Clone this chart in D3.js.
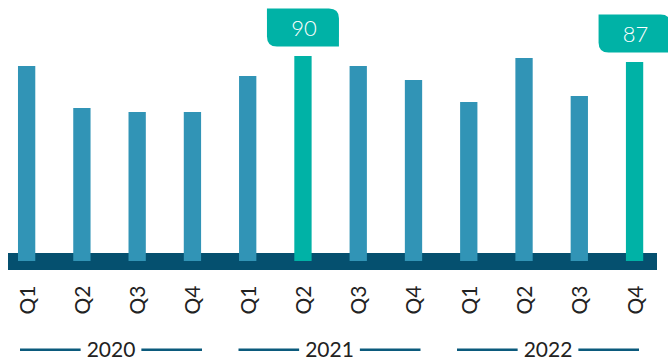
<!DOCTYPE html>
<html>
<head>
<meta charset="utf-8">
<script src="https://cdn.jsdelivr.net/npm/d3@7"></script>
<style>
  html, body { margin: 0; padding: 0; background: #ffffff; }
  svg { display: block; }
  text { font-family: "Lato", "Open Sans", "DejaVu Sans", sans-serif; }
</style>
</head>
<body>
<svg id="chart" width="668" height="360"></svg>
<script>
const quarters = ["Q1", "Q2", "Q3", "Q4", "Q1", "Q2", "Q3", "Q4", "Q1", "Q2", "Q3", "Q4"];
const years = ["2020", "2021", "2022"];
const values = [85, 64, 62, 62, 80, 90, 85, 78, 67, 89, 70, 87];
const highlighted = [false, false, false, false, false, true, false, false, false, false, false, true];

const colors = { bar: "#3194b6", highlight: "#00b2a6", base: "#05506f", text: "#222222", yearLine: "#0b5a7c" };

const svg = d3.select("#chart");
const idx = d3.range(values.length);

const x = d3.scaleBand().domain(idx).range([8, 657])
  .paddingInner(0.687).paddingOuter(0.215).align(0.42);
const y = d3.scaleLinear().domain([0, 100]).range([236, 36]);
const baseTop = 253, baseH = 17, barBottom = 261;

// baseline band
svg.append("rect")
  .attr("x", x.range()[0]).attr("y", baseTop)
  .attr("width", x.range()[1] - x.range()[0]).attr("height", baseH)
  .attr("fill", colors.base);

// bars
svg.append("g").selectAll("rect").data(idx).join("rect")
  .attr("x", i => x(i))
  .attr("y", i => y(values[i]))
  .attr("width", x.bandwidth())
  .attr("height", i => barBottom - y(values[i]))
  .attr("fill", i => highlighted[i] ? colors.highlight : colors.bar);

// value callouts
const boxW = 72, boxH = 38, r = 10, gap = 9.5;
function boxPath(x0, y0, w, h, r) {
  return `M${x0},${y0} L${x0 + w - r},${y0} Q${x0 + w},${y0} ${x0 + w},${y0 + r} L${x0 + w},${y0 + h} L${x0 + r},${y0 + h} Q${x0},${y0 + h} ${x0},${y0 + h - r} Z`;
}
const hi = idx.filter(i => highlighted[i]);
const callouts = svg.append("g").selectAll("g").data(hi).join("g");
callouts.append("path")
  .attr("d", i => {
    const cx = x(i) + x.bandwidth() / 2;
    const by = y(values[i]) - gap - boxH;
    return boxPath(cx - boxW / 2, by, boxW, boxH, r);
  })
  .attr("fill", colors.highlight);
callouts.append("text")
  .attr("x", i => x(i) + x.bandwidth() / 2 + 1)
  .attr("y", i => y(values[i]) - gap - boxH / 2 + 8)
  .attr("text-anchor", "middle")
  .attr("font-size", 22)
  .attr("font-weight", 300)
  .attr("fill", "#ffffff")
  .text(i => values[i]);

// quarter labels
svg.append("g").selectAll("text").data(idx).join("text")
  .attr("transform", i => `translate(${x(i) + x.bandwidth() / 2 + 8},300) rotate(-90)`)
  .attr("text-anchor", "middle")
  .attr("font-size", 21)
  .attr("font-weight", 400)
  .attr("fill", colors.text)
  .text(i => quarters[i]);

// year groups
const xYear = d3.scalePoint().domain(years).range([111, 548]);
const groupW = 182, lineY = 349.7, textPad = 6;
years.forEach(yr => {
  const cx = xYear(yr);
  const g = svg.append("g");
  const t = g.append("text")
    .attr("x", cx).attr("y", 356.5)
    .attr("text-anchor", "middle")
    .attr("font-size", 21)
    .attr("font-weight", 400)
    .attr("fill", colors.text)
    .text(yr);
  const tw = t.node().getComputedTextLength();
  g.append("line")
    .attr("x1", cx - groupW / 2).attr("x2", cx - tw / 2 - textPad)
    .attr("y1", lineY).attr("y2", lineY)
    .attr("stroke", colors.yearLine).attr("stroke-width", 2.5);
  g.append("line")
    .attr("x1", cx + tw / 2 + textPad).attr("x2", cx + groupW / 2)
    .attr("y1", lineY).attr("y2", lineY)
    .attr("stroke", colors.yearLine).attr("stroke-width", 2.5);
});
</script>
</body>
</html>
